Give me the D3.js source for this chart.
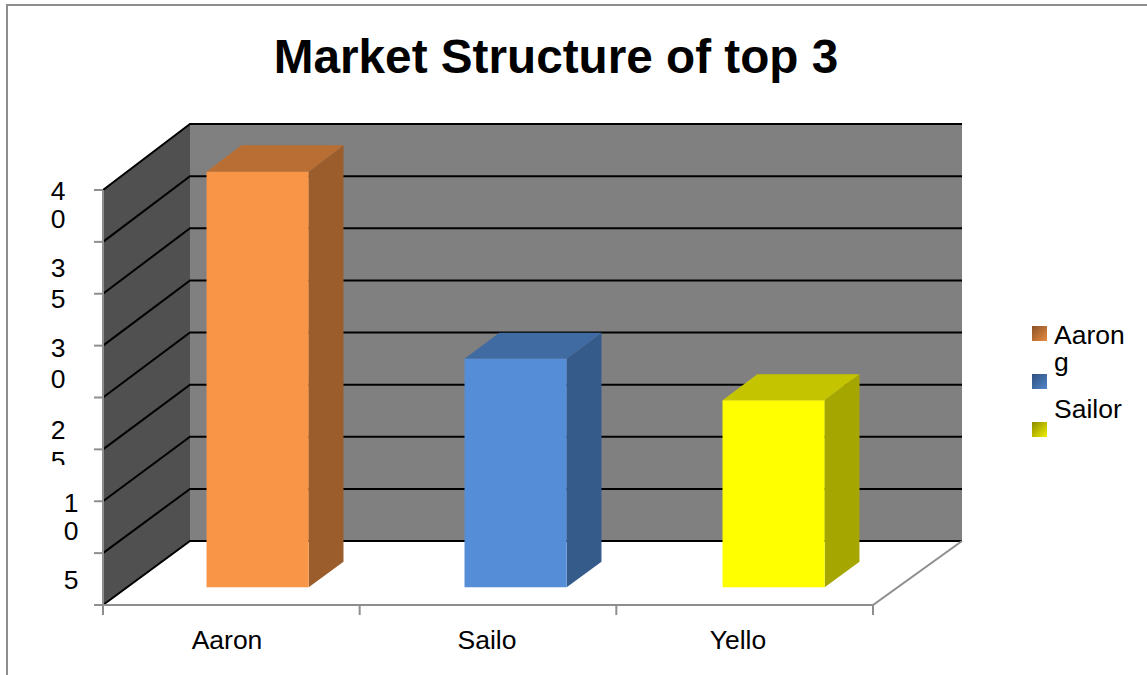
<!DOCTYPE html>
<html>
<head>
<meta charset="utf-8">
<script src="https://cdn.jsdelivr.net/npm/d3@7"></script>
<style>
  html, body { margin: 0; padding: 0; background: #fff; overflow: hidden; }
  svg { display: block; }
  text { font-family: "Liberation Sans", Arial, sans-serif; fill: #000; }
</style>
</head>
<body>
<svg id="chart" width="1147" height="675"></svg>
<script>
// Chart content
const chartTitle = "Market Structure of top 3";
const categories = ["Aaron", "Sailo", "Yello"];
const values = [40, 22, 18];
const frontColors = ["#F99546", "#558DD6", "#FFFF00"];
const topColors = ["#B96F33", "#406BA2", "#C4C400"];
const sideColors = ["#9A5D2B", "#355B8B", "#A6A600"];
const yTicks = d3.range(0, 41, 5);

// The value labels wrap digit by digit inside a narrow label box
const yLabelChars = ["4", "0", "3", "5", "3", "0", "2", "5", "1", "0", "5"];
const yLabelBaselines = [200, 228, 277, 308, 357, 388, 439, 470, 512, 540, 589];
const yLabelCenters = [58, 58, 58, 58, 58, 58, 58, 58, 71, 71, 71];
const yLabelClipped = 7; // this digit is cut off by the label box

// Category labels sit slightly unevenly under their slots
const categoryLabelCenters = [227, 487, 738];

// Legend rows; the third entry has lost its text to the box edge
const legendLines = [
  { text: "Aaron", y: 344 },
  { text: "g", y: 371 },
  { text: "Sailor", y: 418 }
];
const legendStops = [
  ["#8A5226", "#E88C42"],
  ["#2F5080", "#5185C8"],
  ["#8C8C00", "#EFEF00"]
];

// Layout of the oblique box: a front plane and a slightly taller back plane
const depthX = 87;
const y = d3.scaleLinear().domain([0, 40]).range([605, 190]);
const yBack = d3.scaleLinear().domain([0, 40]).range([541, 124]);
const x = d3.scaleBand().domain(categories).range([103, 873]);
const barX = d3.scaleBand().domain(categories).range([128.6, 902.6])
  .paddingInner(0.604).paddingOuter(0.302);
const barFront = 18 / 65;  // depth fraction of the bar's front face
const barBack = 44 / 65;   // depth fraction of the bar's back face
const wallRight = 962;

// Vertical position of a value at a depth fraction between the two planes
const project = (v, t) => y(v) + (yBack(v) - y(v)) * t;

const svg = d3.select("#chart");
const poly = pts => pts.map(p => p.join(",")).join(" ");
const gray = "#8E8E8E";

// Outer frame: top and left edges only
svg.append("path")
  .attr("d", "M7,675V5H1147")
  .attr("fill", "none").attr("stroke", gray).attr("stroke-width", 2);

svg.append("text")
  .attr("x", 556).attr("y", 73)
  .attr("text-anchor", "middle")
  .attr("font-size", 47.7).attr("font-weight", "bold")
  .text(chartTitle);

// Walls
const x0 = x.range()[0], x1 = x.range()[1];
svg.append("polygon")
  .attr("points", poly([[x0 + depthX, yBack(40)], [wallRight, yBack(40)],
                        [wallRight, yBack(0)], [x0 + depthX, yBack(0)]]))
  .attr("fill", "#808080");
svg.append("polygon")
  .attr("points", poly([[x0, y(40)], [x0 + depthX, yBack(40)],
                        [x0 + depthX, yBack(0)], [x0, y(0)]]))
  .attr("fill", "#505050");

// Gridlines run along the side wall and then across the back wall
svg.append("g").selectAll("path").data(yTicks).join("path")
  .attr("d", d => `M${x0},${y(d)}L${x0 + depthX},${yBack(d)}L${wallRight},${yBack(d)}`)
  .attr("fill", "none").attr("stroke", "#000").attr("stroke-width", 2);

// Floor edges and axis lines
svg.append("path")
  .attr("d", `M${x0},${y(40)}V${y(0)}H${x1}L${wallRight},${yBack(0)}`)
  .attr("fill", "none").attr("stroke", gray).attr("stroke-width", 2);

svg.append("g").selectAll("line").data(yTicks).join("line")
  .attr("x1", x0 - 9).attr("x2", x0)
  .attr("y1", d => y(d)).attr("y2", d => y(d))
  .attr("stroke", gray).attr("stroke-width", 2);
svg.append("g").selectAll("line").data([...categories.map(c => x(c)), x1]).join("line")
  .attr("x1", d => d).attr("x2", d => d)
  .attr("y1", y(0)).attr("y2", y(0) + 10)
  .attr("stroke", gray).attr("stroke-width", 2);

// Bars: side, top, then front face
const bars = svg.append("g").selectAll("g")
  .data(categories.map((c, i) => ({ c, v: values[i], i })))
  .join("g");
const faces = d => {
  const l = barX(d.c), r = l + barX.bandwidth();
  return {
    l, r,
    dx: depthX * (barBack - barFront),
    base: project(0, barFront), baseBack: project(0, barBack),
    top: project(d.v, barFront), topBack: project(d.v, barBack)
  };
};
bars.append("polygon")
  .attr("points", d => { const f = faces(d);
    return poly([[f.r, f.top], [f.r + f.dx, f.topBack], [f.r + f.dx, f.baseBack], [f.r, f.base]]); })
  .attr("fill", d => sideColors[d.i]);
bars.append("polygon")
  .attr("points", d => { const f = faces(d);
    return poly([[f.l, f.top], [f.l + f.dx, f.topBack], [f.r + f.dx, f.topBack], [f.r, f.top]]); })
  .attr("fill", d => topColors[d.i]);
bars.append("polygon")
  .attr("points", d => { const f = faces(d);
    return poly([[f.l, f.top], [f.r, f.top], [f.r, f.base], [f.l, f.base]]); })
  .attr("fill", d => frontColors[d.i]);

// Category labels
svg.append("g").selectAll("text").data(categories).join("text")
  .attr("x", (d, i) => categoryLabelCenters[i])
  .attr("y", 649)
  .attr("text-anchor", "middle")
  .attr("font-size", 26.5)
  .text(d => d);

// Value labels
const defs = svg.append("defs");
defs.append("clipPath").attr("id", "label-box")
  .append("rect").attr("x", 0).attr("y", 440).attr("width", 100).attr("height", 25);
svg.append("g").selectAll("text").data(yLabelChars).join("text")
  .attr("x", (d, i) => yLabelCenters[i])
  .attr("y", (d, i) => yLabelBaselines[i])
  .attr("text-anchor", "middle")
  .attr("font-size", 26.5)
  .attr("clip-path", (d, i) => i === yLabelClipped ? "url(#label-box)" : null)
  .text(d => d);

// Legend
legendStops.forEach((s, i) => {
  const g = defs.append("linearGradient").attr("id", "swatch" + i)
    .attr("x1", 0).attr("y1", 0).attr("x2", 1).attr("y2", 1);
  g.append("stop").attr("offset", 0).attr("stop-color", s[0]);
  g.append("stop").attr("offset", 1).attr("stop-color", s[1]);
});
const legendY = d3.scalePoint().domain(d3.range(3)).range([326, 422]);
svg.append("g").selectAll("rect").data(d3.range(3)).join("rect")
  .attr("x", 1032).attr("y", d => legendY(d))
  .attr("width", 15).attr("height", 15)
  .attr("fill", d => `url(#swatch${d})`);
svg.append("g").selectAll("text").data(legendLines).join("text")
  .attr("x", 1054).attr("y", d => d.y)
  .attr("font-size", 26.5)
  .text(d => d.text);
</script>
</body>
</html>
